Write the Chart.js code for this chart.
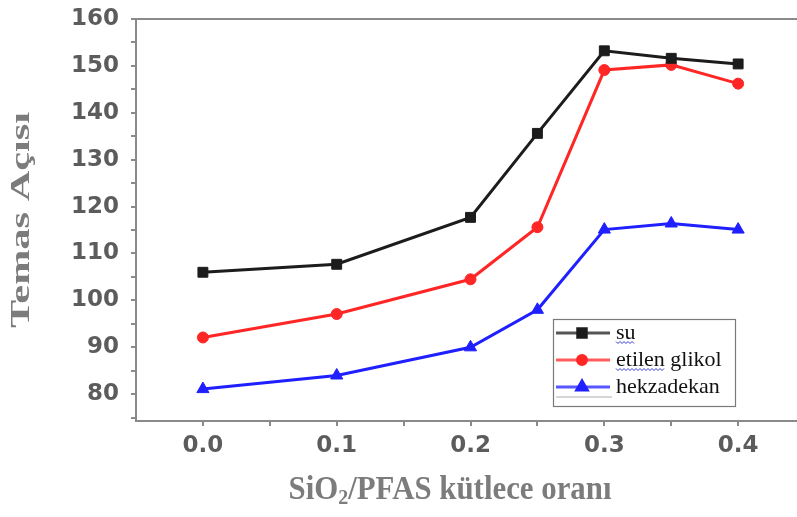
<!DOCTYPE html>
<html>
<head>
<meta charset="UTF-8">
<title>Temas Açısı</title>
<script src="https://cdn.jsdelivr.net/npm/chart.js"></script>
<style>
  html, body { margin: 0; padding: 0; background: #fff; }
  #wrap { width: 797px; height: 517px; }
</style>
</head>
<body>
<div id="wrap"><canvas id="c" width="797" height="517"></canvas></div>
<script>
// SiO2/PFAS kütlece oranı (x)
const oran = [0, 0.1, 0.2, 0.25, 0.3, 0.35, 0.4];
// temas açısı değerleri
const su = [106, 107.7, 117.7, 135.6, 153.2, 151.6, 150.4];
const etilenGlikol = [92.1, 97.1, 104.5, 115.6, 149.1, 150.2, 146.2];
const hekzadekan = [81.1, 84, 90, 98, 115.1, 116.4, 115.1];
const seriesNames = ['su', 'etilen glikol', 'hekzadekan'];
// eksen işaretleri
const xTicks = [0, 0.05, 0.1, 0.15, 0.2, 0.25, 0.3, 0.35, 0.4];
const yTicks = [75, 80, 85, 90, 95, 100, 105, 110, 115, 120, 125, 130, 135, 140, 145, 150, 155, 160];

const toPts = arr => arr.map((v, i) => ({x: oran[i], y: v}));
const axisGray = '#8a8a8a';
const tickFont = {family: '"DejaVu Sans"', size: 23, weight: 'bold'};

// cerceve ustu + eksen basliklari
const framePlugin = {
  id: 'framePlugin',
  afterDraw(chart) {
    const {ctx, chartArea: a} = chart;
    ctx.save();
    ctx.strokeStyle = axisGray;
    ctx.lineWidth = 2;
    ctx.beginPath();
    ctx.moveTo(a.left, a.top);
    ctx.lineTo(a.right, a.top);
    ctx.stroke();

    ctx.fillStyle = '#7c7c7c';
    ctx.textBaseline = 'middle';

    // y basligi
    ctx.font = 'bold 28px "Liberation Serif"';
    ctx.textAlign = 'center';
    const yt = 'Temas Açısı';
    const sy = 216 / ctx.measureText(yt).width;
    ctx.save();
    ctx.translate(22, 220);
    ctx.rotate(-Math.PI / 2);
    ctx.scale(sy, 1);
    ctx.fillText(yt, 0, 0);
    ctx.restore();

    // x basligi (alt simge ile)
    const big = 'bold 34px "Liberation Serif"';
    const small = 'bold 22px "Liberation Serif"';
    const parts = [['SiO', big, 0], ['2', small, 8], ['/PFAS kütlece oranı', big, 0]];
    let total = 0;
    parts.forEach(p => { ctx.font = p[1]; total += ctx.measureText(p[0]).width; });
    const sx = 323 / total;
    ctx.save();
    ctx.translate(450 - 323 / 2, 490);
    ctx.scale(sx, 1);
    ctx.textAlign = 'left';
    let cx = 0;
    parts.forEach(p => {
      ctx.font = p[1];
      ctx.fillText(p[0], cx, p[2]);
      cx += ctx.measureText(p[0]).width;
    });
    ctx.restore();
    ctx.restore();
  }
};

// kutu icinde lejant
const boxLegend = {
  id: 'boxLegend',
  afterDraw(chart) {
    const ctx = chart.ctx;
    const x0 = 553, y0 = 319, w = 182, h = 87;
    ctx.save();
    ctx.fillStyle = '#fff';
    ctx.fillRect(x0, y0, w, h);
    ctx.strokeStyle = '#7a7a7a';
    ctx.lineWidth = 1.2;
    ctx.strokeRect(x0 + 0.5, y0 + 0.5, w, h);
    chart.data.datasets.forEach((ds, i) => {
      const y = y0 + 14 + i * 27;
      ctx.strokeStyle = ds.borderColor;
      ctx.globalAlpha = 0.75;
      ctx.lineWidth = 3;
      ctx.beginPath();
      ctx.moveTo(x0 + 3, y);
      ctx.lineTo(x0 + 57, y);
      ctx.stroke();
      ctx.globalAlpha = 1;
      ctx.fillStyle = ds.pointBackgroundColor;
      ctx.strokeStyle = ds.pointBorderColor;
      Chart.helpers.drawPoint(ctx, {pointStyle: ds.pointStyle, radius: ds.pointRadius - 1, borderWidth: 1, rotation: 0}, x0 + 29, y);
      ctx.fillStyle = '#111';
      ctx.font = '22px "Liberation Serif"';
      ctx.textAlign = 'left';
      ctx.textBaseline = 'middle';
      ctx.fillText(ds.label, x0 + 63, y);
      // yazim denetimi dalgali cizgisi
      if (i < 2) {
        const word = ds.label.split(' ')[0];
        const ww = ctx.measureText(word).width;
        ctx.strokeStyle = '#3a3ad8';
        ctx.lineWidth = 1;
        ctx.beginPath();
        for (let k = 0; k <= ww; k += 2) {
          const yy = y + 9 + ((k / 2) % 2 ? 1.5 : -0.5);
          if (k === 0) ctx.moveTo(x0 + 63 + k, yy); else ctx.lineTo(x0 + 63 + k, yy);
        }
        ctx.stroke();
      }
    });
    ctx.strokeStyle = '#d6d6d6';
    ctx.lineWidth = 2;
    ctx.beginPath();
    ctx.moveTo(x0 + 3, y0 + 78);
    ctx.lineTo(x0 + 59, y0 + 78);
    ctx.stroke();
    ctx.restore();
  }
};

const mk = (label, data, color, style, r) => ({
  label: label,
  data: toPts(data),
  borderColor: color,
  backgroundColor: color,
  pointBackgroundColor: color,
  pointBorderColor: color,
  pointStyle: style,
  pointRadius: r,
  pointBorderWidth: 1,
  borderWidth: 3,
  tension: 0
});

new Chart(document.getElementById('c'), {
  type: 'line',
  data: {
    datasets: [
      mk(seriesNames[0], su, '#1c1c1c', 'rect', 7),
      mk(seriesNames[1], etilenGlikol, '#ff2626', 'circle', 5.5),
      mk(seriesNames[2], hekzadekan, '#1f1fff', 'triangle', 7)
    ]
  },
  options: {
    responsive: false,
    animation: false,
    layout: {autoPadding: false, padding: {top: 17, right: 0, left: 0, bottom: 0}},
    plugins: {legend: {display: false}, tooltip: {enabled: false}},
    scales: {
      x: {
        type: 'linear',
        min: -0.05,
        max: 0.444,
        afterBuildTicks: s => { s.ticks = xTicks.map(v => ({value: v})); },
        afterFit: s => { s.height = 96; },
        grid: {drawOnChartArea: false, drawTicks: true, tickLength: 5, color: axisGray, lineWidth: 2},
        border: {display: true, color: axisGray, width: 2},
        ticks: {
          autoSkip: false,
          maxRotation: 0,
          padding: 6,
          color: '#5c5c5c',
          font: tickFont,
          callback: v => (Math.round(v * 100) % 10 === 0 ? v.toFixed(1) : '')
        }
      },
      y: {
        min: 74.3,
        max: 160,
        afterBuildTicks: s => { s.ticks = yTicks.map(v => ({value: v})); },
        afterFit: s => { s.width = 136; },
        grid: {drawOnChartArea: false, drawTicks: true, tickLength: 5, color: axisGray, lineWidth: 2},
        border: {display: true, color: axisGray, width: 2},
        ticks: {
          autoSkip: false,
          padding: 12,
          color: '#5c5c5c',
          font: Object.assign({}, tickFont, {lineHeight: 0.6}),
          callback: v => (v % 10 === 0 ? String(v) : '')
        }
      }
    }
  },
  plugins: [framePlugin, boxLegend]
});
</script>
</body>
</html>
